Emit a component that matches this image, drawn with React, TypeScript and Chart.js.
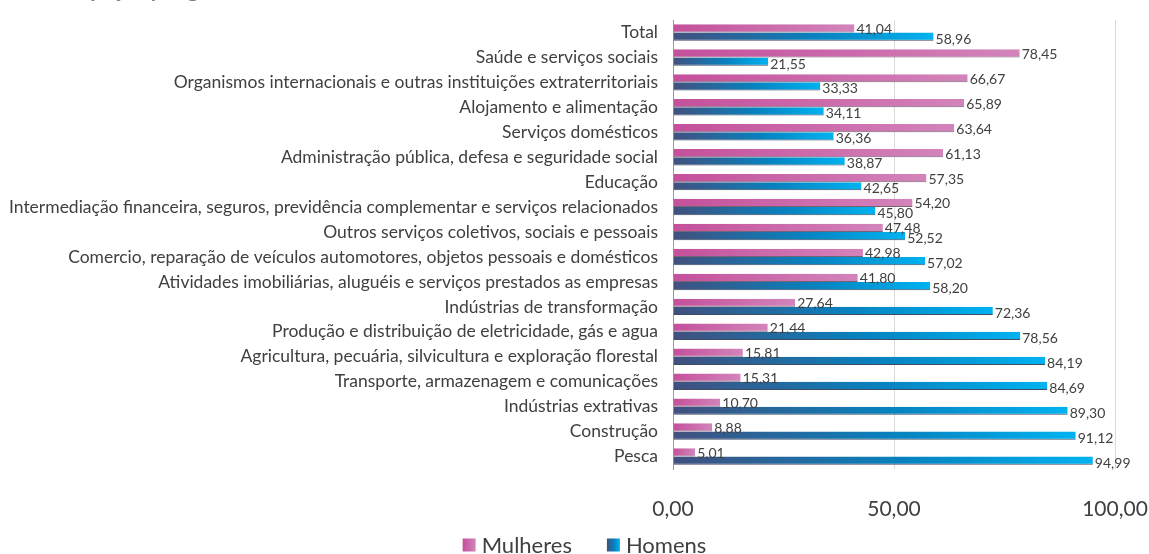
import React, { useEffect, useRef } from "react";
import { Chart, registerables } from "chart.js";

Chart.register(...registerables);

const titleText = "Participação por gênero nas classes de atividade econômica e no total de trabalhadores (%), 2010";

const categories = [
  "Total",
  "Saúde e serviços sociais",
  "Organismos internacionais e outras instituições extraterritoriais",
  "Alojamento e alimentação",
  "Serviços domésticos",
  "Administração pública, defesa e seguridade social",
  "Educação",
  "Intermediação financeira, seguros, previdência complementar e serviços relacionados",
  "Outros serviços coletivos, sociais e pessoais",
  "Comercio, reparação de veículos automotores, objetos pessoais e domésticos",
  "Atividades imobiliárias, aluguéis e serviços prestados as empresas",
  "Indústrias de transformação",
  "Produção e distribuição de eletricidade, gás e agua",
  "Agricultura, pecuária, silvicultura e exploração florestal",
  "Transporte, armazenagem e comunicações",
  "Indústrias extrativas",
  "Construção",
  "Pesca",
];

const mulheres = [41.04, 78.45, 66.67, 65.89, 63.64, 61.13, 57.35, 54.2, 47.48, 42.98, 41.8, 27.64, 21.44, 15.81, 15.31, 10.7, 8.88, 5.01];
const homens = [58.96, 21.55, 33.33, 34.11, 36.36, 38.87, 42.65, 45.8, 52.52, 57.02, 58.2, 72.36, 78.56, 84.19, 84.69, 89.3, 91.12, 94.99];

const seriesNames = ["Mulheres", "Homens"];
const xTicks = [0, 50, 100];

const pinkStops: [number, string][] = [
  [0, "#c4509b"],
  [1, "#d384bb"],
];
const blueStops: [number, string][] = [
  [0, "#41507e"],
  [0.55, "#0782bf"],
  [1, "#00b2f0"],
];
const stopsBySeries = [pinkStops, blueStops];

const fmt = (v: number) => v.toFixed(2).replace(".", ",");

function makeGradientFill(stops: [number, string][], solid: string) {
  return (c: any) => {
    const chart = c.chart;
    if (!chart.chartArea || c.raw == null) return solid;
    const xs = chart.scales.x;
    const x0 = xs.getPixelForValue(0);
    const x1 = Math.max(xs.getPixelForValue(c.raw), x0 + 1);
    const g = chart.ctx.createLinearGradient(x0, 0, x1, 0);
    stops.forEach(([o, col]) => g.addColorStop(o, col));
    return g;
  };
}

const valueLabels = {
  id: "valueLabels",
  afterDatasetsDraw(chart: any) {
    const ctx = chart.ctx;
    ctx.save();
    ctx.font = "14px Lato";
    ctx.fillStyle = "#404040";
    ctx.textAlign = "left";
    ctx.textBaseline = "middle";
    chart.data.datasets.forEach((ds: any, di: number) => {
      const meta = chart.getDatasetMeta(di);
      meta.data.forEach((el: any, i: number) => {
        const v = ds.data[i];
        ctx.fillText(fmt(v), el.x + 2, el.y + (di === 1 ? 2.5 : 1));
      });
    });
    ctx.restore();
  },
};

const customLegend = {
  id: "customLegend",
  afterDraw(chart: any) {
    const ctx = chart.ctx;
    ctx.save();
    ctx.font = "22px Lato";
    ctx.textBaseline = "middle";
    ctx.textAlign = "left";
    const sw = 13;
    const gap = 6;
    const spacing = 35;
    const names = chart.data.datasets.map((d: any) => d.label);
    const widths = names.map((n: string) => sw + gap + ctx.measureText(n).width);
    const total = widths.reduce((a: number, b: number) => a + b, 0) + spacing * (names.length - 1);
    let x = chart.width / 2 + 10 - total / 2;
    const cy = 545;
    names.forEach((n: string, i: number) => {
      const g = ctx.createLinearGradient(x, 0, x + sw, 0);
      stopsBySeries[i].forEach(([o, col]) => g.addColorStop(o, col));
      ctx.fillStyle = g;
      ctx.fillRect(x, cy - sw / 2, sw, sw);
      ctx.fillStyle = "#404040";
      ctx.fillText(n, x + sw + gap, cy + 1);
      x += widths[i] + spacing;
    });
    ctx.restore();
  },
};

export default function App() {
  const ref = useRef<HTMLCanvasElement>(null);
  useEffect(() => {
    if (!ref.current) return;
    const chart = new Chart(ref.current, {
      type: "bar",
      data: {
        labels: categories,
        datasets: [
          {
            label: seriesNames[0],
            data: mulheres,
            backgroundColor: makeGradientFill(pinkStops, "#c9629f"),
            borderColor: "rgba(70,50,70,0.75)",
            borderWidth: { top: 0, right: 0, bottom: 1, left: 0 },
            borderSkipped: false,
            barPercentage: 1,
            categoryPercentage: 0.66,
          },
          {
            label: seriesNames[1],
            data: homens,
            backgroundColor: makeGradientFill(blueStops, "#0782bf"),
            borderColor: "rgba(30,45,70,0.85)",
            borderWidth: { top: 0, right: 0, bottom: 1, left: 0 },
            borderSkipped: false,
            barPercentage: 1,
            categoryPercentage: 0.66,
          },
        ],
      },
      options: {
        indexAxis: "y",
        animation: false,
        responsive: true,
        maintainAspectRatio: false,
        layout: { padding: { left: 8, right: 34, top: 20, bottom: 34 } },
        scales: {
          x: {
            min: 0,
            max: 100,
            afterBuildTicks: (s: any) => {
              s.ticks = xTicks.map((v) => ({ value: v }));
            },
            afterFit: (s: any) => {
              s.paddingLeft = 0;
              s.paddingRight = 0;
              s.height = 51;
            },
            ticks: {
              padding: 28,
              font: { family: "Lato", size: 21 },
              color: "#404040",
              callback: (v: any) => fmt(Number(v)),
              maxRotation: 0,
            },
            grid: { color: "#d9d9d9", drawTicks: false, lineWidth: 1 },
            border: { display: false },
          },
          y: {
            ticks: {
              padding: 15,
              font: { family: "Lato", size: 17.5 },
              color: "#404040",
              autoSkip: false,
            },
            grid: { display: false, drawTicks: false },
            border: { display: true, color: "#9a9a9a", width: 1 },
            afterFit: (s: any) => {
              s.width = 665;
              s.paddingTop = 0;
              s.paddingBottom = 0;
            },
          },
        },
        plugins: {
          legend: { display: false },
          tooltip: { enabled: false },
        },
      },
      plugins: [valueLabels, customLegend],
    });
    return () => chart.destroy();
  }, []);

  return (
    <div style={{ position: "fixed", left: 0, top: 0, width: 1149, height: 554, overflow: "hidden", background: "#fff" }}>
      <div
        style={{
          position: "absolute",
          left: 30,
          top: -22,
          fontFamily: "Lato",
          fontWeight: 700,
          fontSize: 21,
          lineHeight: "21px",
          color: "#7f7f7f",
          whiteSpace: "nowrap",
        }}
      >
        {titleText}
      </div>
      <canvas ref={ref} style={{ position: "absolute", left: 0, top: 0, width: 1149, height: 554 }} />
    </div>
  );
}
